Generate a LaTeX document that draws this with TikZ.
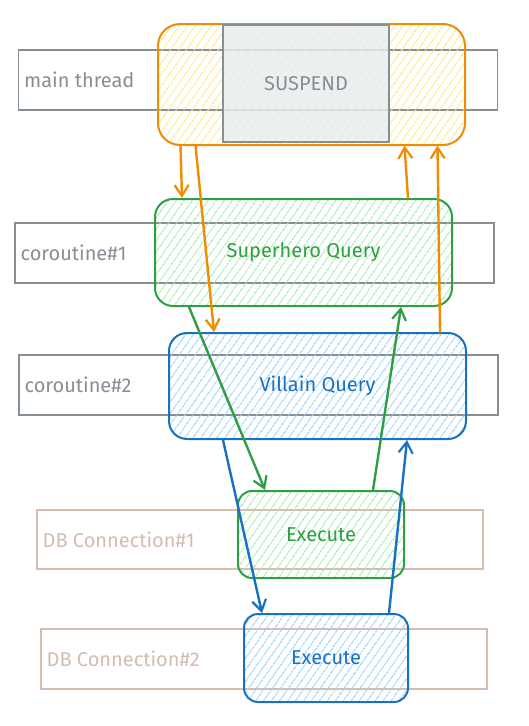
\documentclass[tikz,border=0pt]{standalone}
\usepackage{fontspec}
\setmainfont{Fira Sans}
\usetikzlibrary{arrows.meta,patterns.meta}

\definecolor{lanegray}{HTML}{868E96}
\definecolor{dbtan}{RGB}{212,188,176}
\definecolor{suspgray}{HTML}{E9ECEF}
\definecolor{orangeline}{HTML}{F08C00}
\definecolor{greenline}{HTML}{2F9E44}
\definecolor{blueline}{HTML}{1971C2}
\definecolor{yellowhatch}{HTML}{FFE680}
\definecolor{greenhatch}{HTML}{A3EBAF}
\definecolor{bluehatch}{HTML}{99D0FF}

\tikzset{
  lane/.style={draw=lanegray, line width=1.8pt, minimum width=479pt, minimum height=60pt},
  dblane/.style={lane, draw=dbtan, minimum width=446pt},
  lanetext/.style={anchor=west, text=lanegray, font=\fontsize{20}{22}\selectfont},
  dbtext/.style={lanetext, text=dbtan},
  task/.style={line width=2pt, rounded corners=18pt, font=\fontsize{20}{22}\selectfont,
    pattern={Lines[angle=55,distance=6.5pt,line width=1pt]}},
  flow/.style={line width=2.4pt, line cap=round, -{Straight Barb[length=11pt,width=14pt,line width=2.2pt]}}
}

\begin{document}
\begin{tikzpicture}[x=1pt,y=-1pt]
  \useasboundingbox (0,0) rectangle (529,726);
  \node[lane] (mainlane) at (258,80) {};
  \node[lane] (co1lane) at (254.5,253) {};
  \node[lane] (co2lane) at (258.5,385) {};
  \node[dblane, minimum height=59pt] (db1lane) at (260,539.5) {};
  \node[dblane] (db2lane) at (264,659) {};
  \node[lanetext] (mainlbl) at ([xshift=3pt]mainlane.west) {main thread};
  \node[lanetext] (co1lbl) at ([xshift=3pt]co1lane.west) {coroutine\#1};
  \node[lanetext] (co2lbl) at ([xshift=3pt]co2lane.west) {coroutine\#2};
  \node[dbtext] (db1lbl) at ([xshift=3pt]db1lane.west) {DB Connection\#1};
  \node[dbtext] (db2lbl) at ([xshift=3pt]db2lane.west) {DB Connection\#2};
  \node[task, draw=orangeline, pattern color=yellowhatch, rounded corners=22pt,
    minimum width=307pt, minimum height=121pt] (mainbox) at (311.5,84.5) {};
  \node[draw=lanegray, fill=suspgray, fill opacity=0.8, text opacity=1, line width=1.8pt,
    text=lanegray, font=\fontsize{20}{22}\selectfont,
    minimum width=166pt, minimum height=117pt] (suspend) at (306,83.5) {SUSPEND};
  \node[task, draw=greenline, pattern color=greenhatch, text=greenline,
    minimum width=297pt, minimum height=107pt] (heroq) at (303.5,252.5) {Superhero Query};
  \node[task, draw=blueline, pattern color=bluehatch, text=blueline,
    minimum width=297pt, minimum height=106pt] (villainq) at (317.5,386) {Villain Query};
  \node[task, draw=greenline, pattern color=greenhatch, text=greenline, rounded corners=14pt,
    minimum width=166pt, minimum height=87pt] (exec1) at (321,534.5) {Execute};
  \node[task, draw=blueline, pattern color=bluehatch, text=blueline, rounded corners=14pt,
    minimum width=164pt, minimum height=88pt] (exec2) at (326,658) {Execute};
  \draw[flow, orangeline] ([xshift=23pt]mainbox.south west) -- ([xshift=28pt]heroq.north west);
  \draw[flow, orangeline] ([xshift=38pt]mainbox.south west) -- ([xshift=46pt]villainq.north west);
  \draw[flow, orangeline] ([xshift=254pt]heroq.north west) -- ([xshift=247pt]mainbox.south west);
  \draw[flow, orangeline] ([xshift=272pt]villainq.north west) -- ([xshift=280pt]mainbox.south west);
  \draw[flow, greenline] ([xshift=35pt]heroq.south west) -- ([xshift=28pt]exec1.north west);
  \draw[flow, greenline] ([xshift=136pt]exec1.north west) -- ([xshift=247pt]heroq.south west);
  \draw[flow, blueline] ([xshift=55pt]villainq.south west) -- ([xshift=19pt]exec2.north west);
  \draw[flow, blueline] ([xshift=146pt]exec2.north west) -- ([xshift=239pt]villainq.south west);
\end{tikzpicture}
\end{document}
